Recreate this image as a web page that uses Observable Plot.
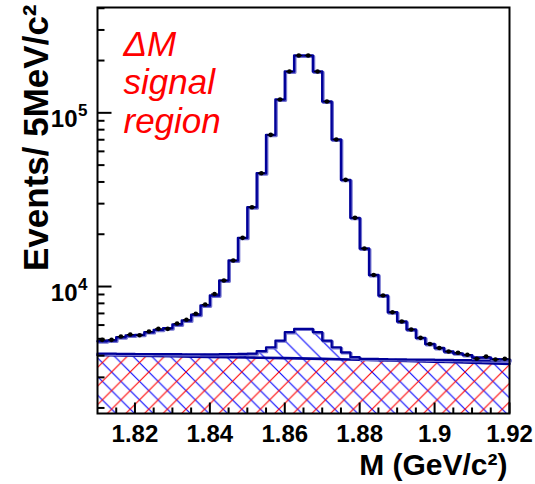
<!DOCTYPE html>
<html><head><meta charset="utf-8">
<script src="https://cdn.jsdelivr.net/npm/d3@7"></script>
<script src="https://cdn.jsdelivr.net/npm/@observablehq/plot@0.6"></script>
<style>html,body{margin:0;padding:0;background:#fff}#chart svg{display:block}</style>
</head><body><div id="chart"></div>
<script>
// ---- data ----
const xDomain = [1.81, 1.92];
const yDomain = [1858, 404000];
const binStart = 1.81;
const binWidth = 0.0025;
// data points (events per bin)
const dataCounts = [4933, 4933, 5153, 5292, 5242, 5506, 5708, 5708, 6124, 6432, 6966, 7879, 9053, 10829, 14110, 19070, 28610, 44900, 74700, 119300, 172900, 213800, 213800, 172900, 116200, 70200, 41140, 24860, 16550, 11650, 8875, 7112, 6288, 5655, 5066, 4667, 4426, 4225, 4159, 4050, 3839, 3954, 3798, 3835];
// total MC histogram
const mcTotal = [4843, 4888, 5106, 5222, 5270, 5457, 5633, 5754, 6043, 6372, 6875, 7774, 8875, 10829, 14110, 19070, 28610, 44900, 74700, 119300, 172900, 213800, 213800, 172900, 116200, 70200, 41140, 24860, 16550, 11650, 8875, 7112, 6288, 5655, 5066, 4667, 4426, 4225, 4120, 4030, 3900, 3900, 3820, 3810];
// background + peaking background (blue hatched)
const peakingStack = [4110, 4105, 4100, 4095, 4090, 4090, 4085, 4080, 4080, 4075, 4075, 4070, 4070, 4080, 4090, 4100, 4110, 4250, 4472, 4888, 5457, 5708, 5708, 5457, 4888, 4472, 4183, 3918, 3835, 3830, 3822, 3815, 3808, 3800, 3795, 3790, 3785, 3778, 3770, 3765, 3760, 3752, 3748, 3745];
// smooth combinatorial background (red hatched)
const bkgX = [1.81, 1.82, 1.83, 1.84, 1.85, 1.86, 1.87, 1.88, 1.89, 1.90, 1.91, 1.92];
const bkgY = [4033, 3996, 3965, 3933, 3902, 3871, 3835, 3790, 3745, 3695, 3641, 3589];
// axis ticks and labels
const xMajorTicks = [1.82, 1.84, 1.86, 1.88, 1.90, 1.92];
const xTickLabels = ["1.82", "1.84", "1.86", "1.88", "1.9", "1.92"];
const xMinorTicks = [1.815, 1.825, 1.83, 1.835, 1.845, 1.85, 1.855, 1.865, 1.87, 1.875, 1.885, 1.89, 1.895, 1.905, 1.91, 1.915];
const yMajorTicks = [1e4, 1e5];
const yTickExponents = ["4", "5"];
const yMinorTicks = [2000, 3000, 4000, 5000, 6000, 7000, 8000, 9000, 20000, 30000, 40000, 50000, 60000, 70000, 80000, 90000, 200000, 300000, 400000];
const annotation = ["ΔM", "signal", "region"];
const xTitle = "M (GeV/c²)";
const yTitle = "Events/ 5MeV/c²";

// ---- derived tables ----
const bins = dataCounts.map((v, i) => ({
  x1: binStart + i * binWidth,
  x2: binStart + (i + 1) * binWidth,
  xc: binStart + (i + 0.5) * binWidth,
  data: v, mc: mcTotal[i], stack: peakingStack[i]
}));
const steps = key => [...bins.map(b => ({x: b.x1, y: b[key]})), {x: bins[bins.length - 1].x2, y: bins[bins.length - 1][key]}];
const bkg = bkgX.map((x, i) => ({x, y: bkgY[i]}));

const dark = "#000099", halo = "#7474cf";
const font = "'Liberation Sans', Arial, Helvetica, sans-serif";
const hbar = {draw(ctx) { ctx.moveTo(-3.5, 0); ctx.lineTo(3.5, 0); }};
const upTick = len => ({draw(ctx) { ctx.moveTo(0, 0); ctx.lineTo(0, -len); }});
const rightTick = len => ({draw(ctx) { ctx.moveTo(0, 0); ctx.lineTo(len, 0); }});

const svg = Plot.plot({
  width: 535, height: 484,
  marginLeft: 97, marginRight: 26, marginTop: 7, marginBottom: 71,
  x: {domain: xDomain, axis: null},
  y: {type: "log", domain: yDomain, axis: null},
  style: {fontFamily: font, background: "white", color: "black", overflow: "visible"},
  marks: [
    Plot.areaY(steps("stack"), {x: "x", y1: yDomain[0], y2: "y", curve: "step-after", fill: "url(#hatchBlue)"}),
    Plot.areaY(bkg, {x: "x", y1: yDomain[0], y2: "y", curve: "monotone-x", fill: "url(#hatchRed)"}),
    Plot.line(bkg, {x: "x", y: "y", curve: "monotone-x", stroke: dark, strokeWidth: 2.6}),
    Plot.line(steps("stack"), {x: "x", y: "y", curve: "step-after", stroke: halo, strokeWidth: 2.5, dx: 1, dy: 1}),
    Plot.line(steps("stack"), {x: "x", y: "y", curve: "step-after", stroke: dark, strokeWidth: 2.2}),
    Plot.line(steps("mc"), {x: "x", y: "y", curve: "step-after", stroke: halo, strokeWidth: 2.8, dx: 1, dy: 1}),
    Plot.line(steps("mc"), {x: "x", y: "y", curve: "step-after", stroke: dark, strokeWidth: 2.4}),
    Plot.dot(bins, {x: "xc", y: "data", symbol: hbar, stroke: "black", strokeWidth: 1.2, r: 3}),
    Plot.dot(bins, {x: "xc", y: "data", r: 2.3, fill: "black", stroke: "none"}),
    Plot.frame({stroke: "black", strokeWidth: 2}),
    Plot.dot(xMajorTicks, {x: d => d, frameAnchor: "bottom", symbol: upTick(11), stroke: "black", strokeWidth: 2, r: 3}),
    Plot.dot(xMinorTicks, {x: d => d, frameAnchor: "bottom", symbol: upTick(6), stroke: "black", strokeWidth: 2, r: 3}),
    Plot.dot(yMajorTicks, {y: d => d, frameAnchor: "left", symbol: rightTick(14), stroke: "black", strokeWidth: 2, r: 3}),
    Plot.dot(yMinorTicks, {y: d => d, frameAnchor: "left", symbol: rightTick(7), stroke: "black", strokeWidth: 2, r: 3}),
    Plot.text(xMajorTicks, {x: d => d, text: (d, i) => xTickLabels[i], frameAnchor: "bottom", dy: 28, lineAnchor: "bottom", fontSize: 24, fontWeight: "bold", fill: "black", ariaLabel: "xticklabels"}),
    Plot.text(yMajorTicks, {y: d => d, text: () => "10", frameAnchor: "left", dx: -20, dy: 14.5, textAnchor: "end", lineAnchor: "bottom", fontSize: 24, fontWeight: "bold", fill: "black"}),
    Plot.text(yMajorTicks, {y: d => d, text: (d, i) => yTickExponents[i], frameAnchor: "left", dx: -19.5, dy: 3, textAnchor: "start", lineAnchor: "bottom", fontSize: 17, fontWeight: "bold", fill: "black"}),
    Plot.text([yTitle], {frameAnchor: "top-left", rotate: -90, textAnchor: "end", lineAnchor: "bottom", dx: -50, dy: -3, fontSize: 35, fontWeight: "bold", fill: "black"}),
    Plot.text([xTitle], {frameAnchor: "bottom-right", textAnchor: "end", lineAnchor: "bottom", dx: -2, dy: 61, fontSize: 30, fontWeight: "bold", fill: "black", ariaLabel: "xtitle"}),
    Plot.text([annotation.join("\n")], {frameAnchor: "top-left", textAnchor: "start", lineAnchor: "top", dx: 26, dy: 21, lineHeight: 1.1, fontSize: 35, fontStyle: "italic", fill: "#ff0000"})
  ]
});

const s = d3.select(svg);
const defs = s.insert("defs", ":first-child");
const sp = 18.6;
defs.append("pattern").attr("id", "hatchRed").attr("patternUnits", "userSpaceOnUse").attr("width", sp).attr("height", sp)
  .append("path").attr("d", `M0,${sp}L${sp},0M-2,2L2,-2M${sp - 2},${sp + 2}L${sp + 2},${sp - 2}`).attr("stroke", "#ff0000").attr("stroke-width", 1.1).attr("fill", "none");
defs.append("pattern").attr("id", "hatchBlue").attr("patternUnits", "userSpaceOnUse").attr("width", sp).attr("height", sp)
  .append("path").attr("d", `M0,0L${sp},${sp}M-2,${sp - 2}L2,${sp + 2}M${sp - 2},-2L${sp + 2},2`).attr("stroke", "#0000ff").attr("stroke-width", 1.1).attr("fill", "none");
s.selectAll('g[aria-label="xticklabels"]').attr("letter-spacing", "1.5px");
s.selectAll('g[aria-label="xtitle"]').attr("letter-spacing", "1.5px");
document.getElementById("chart").appendChild(svg);
</script>
</body></html>
